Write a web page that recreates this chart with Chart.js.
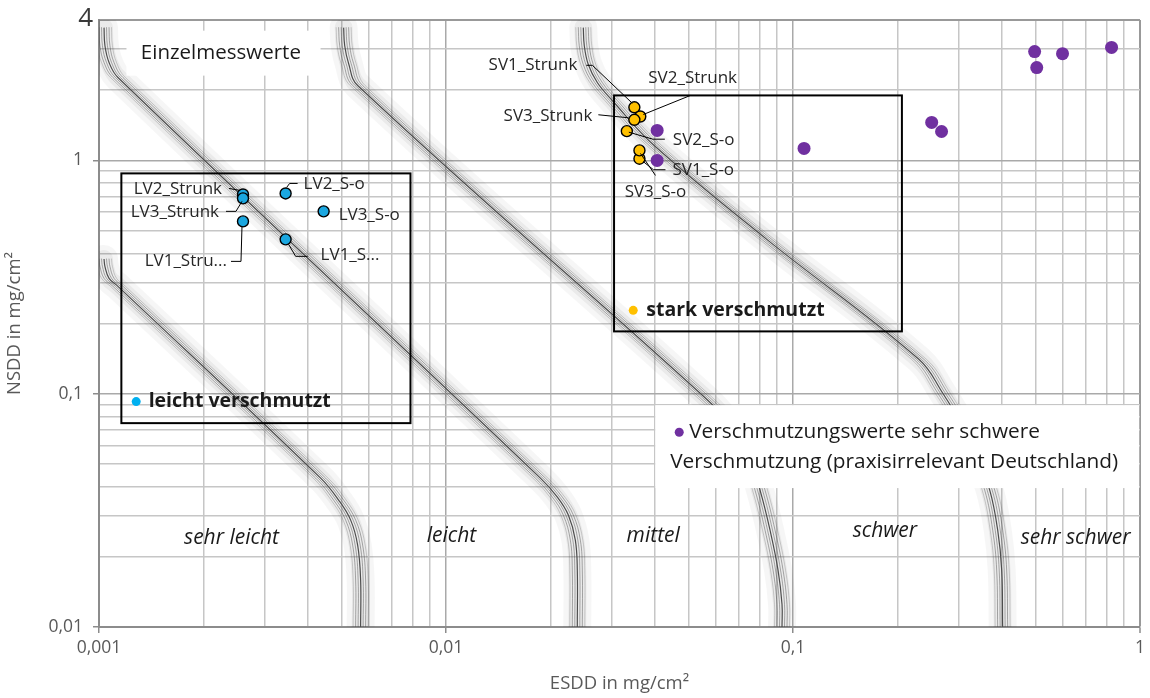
<!DOCTYPE html>
<html>
<head>
<meta charset="utf-8">
<script src="https://cdn.jsdelivr.net/npm/chart.js@4.4.1/dist/chart.umd.min.js"></script>
<style>
  html, body { margin: 0; padding: 0; background: #fff; }
  #wrap { width: 1150px; height: 698px; }
</style>
</head>
<body>
<div id="wrap"><canvas id="chart"></canvas></div>
<script>
// Einzelmesswerte, ESDD / NSDD in mg/cm²
const lvNames = ['LV1_Strunk', 'LV2_Strunk', 'LV3_Strunk', 'LV1_S-o', 'LV2_S-o', 'LV3_S-o'];
const lvEsdd = [0.0026, 0.0026, 0.0026, 0.00345, 0.00345, 0.00444];
const lvNsdd = [0.548, 0.715, 0.688, 0.459, 0.722, 0.605];

const svNames = ['SV1_Strunk', 'SV2_Strunk', 'SV3_Strunk', 'SV1_S-o', 'SV2_S-o', 'SV3_S-o'];
const svEsdd = [0.0349, 0.0363, 0.0349, 0.0361, 0.0332, 0.0361];
const svNsdd = [1.69, 1.543, 1.494, 1.017, 1.335, 1.104];

// sehr schwere Verschmutzung (praxisirrelevant)
const heavyEsdd = [0.0406, 0.0406, 0.1076, 0.251, 0.268, 0.497, 0.504, 0.598, 0.828];
const heavyNsdd = [1.345, 1.0, 1.126, 1.455, 1.331, 2.93, 2.50, 2.87, 3.05];

// class boundaries of the background diagram
const band0Esdd = [0.001034, 0.00104, 0.001069, 0.001134, 0.004353, 0.004904, 0.005312, 0.005564, 0.005675, 0.005675];
const band0Nsdd = [0.378, 0.3516, 0.3124, 0.2887, 0.04345, 0.035, 0.02872, 0.02245, 0.0159, 0.01];
const band1Esdd = [0.001034, 0.00104, 0.001069, 0.001134, 0.01871, 0.02094, 0.02252, 0.02359, 0.0239, 0.0239];
const band1Nsdd = [3.711, 3.109, 2.628, 2.267, 0.04345, 0.03602, 0.03018, 0.02358, 0.01754, 0.01];
const band2Esdd = [0.00507, 0.005105, 0.00524, 0.005564, 0.05401, 0.06587, 0.0752, 0.08035, 0.08587, 0.09055, 0.09297, 0.09297];
const band2Nsdd = [3.711, 3.109, 2.603, 2.095, 0.1005, 0.0733, 0.0519, 0.0386, 0.026, 0.01754, 0.0125, 0.01];
const band3Esdd = [0.02487, 0.02503, 0.02571, 0.02729, 0.03014, 0.03981, 0.08472, 0.2305, 0.2702, 0.3064, 0.3406, 0.3689, 0.389, 0.3994, 0.402];
const band3Nsdd = [3.711, 3.109, 2.577, 2.158, 1.807, 1.159, 0.4544, 0.1405, 0.1005, 0.0733, 0.0519, 0.0386, 0.026, 0.01754, 0.01];

const classNames = ['sehr leicht', 'leicht', 'mittel', 'schwer', 'sehr schwer'];

const xTickValues = [0.001, 0.01, 0.1, 1];
const xTickLabels = ['0,001', '0,01', '0,1', '1'];
const yTickValues = [0.01, 0.1, 1, 4];
const yTickLabels = ['0,01', '0,1', '1', '4'];

const FONT = "'Open Sans', sans-serif";

// where the texts and frames sit (data coordinates)
const classLabelPos = [[0.00241, 0.0240], [0.01037, 0.0245], [0.03955, 0.0246], [0.184, 0.0258], [0.652, 0.0240]];
const frames = [
  { x0: 0.00116, x1: 0.0079, y0: 0.0748, y1: 0.88 },
  { x0: 0.0305, x1: 0.206, y0: 0.185, y1: 1.90 }
];
const whiteBoxes = [
  { x0: 0.0012, x1: 0.00435, y0: 2.31, y1: 3.6 },
  { x0: 0.0401, x1: 0.995, y0: 0.0394, y1: 0.0893 }
];
const notes = [
  { x: 0.00132, y: 2.87, text: 'Einzelmesswerte', size: 20.5 },
  { x: 0.00139, y: 0.0925, text: 'leicht verschmutzt', size: 19.5, bold: true, dot: '#00B0F0', dotX: 0.00128 },
  { x: 0.03777, y: 0.2278, text: 'stark verschmutzt', size: 19.5, bold: true, dot: '#FFC000', dotX: 0.03464 },
  { x: 0.05022, y: 0.0684, text: 'Verschmutzungswerte sehr schwere', size: 20.8, dot: '#7030A0', dotX: 0.04700 },
  { x: 0.04426, y: 0.0509, text: 'Verschmutzung (praxisirrelevant Deutschland)', size: 20.8 }
];

// data labels: pixel offset from the point, leader line as offsets
const labelLayout = {
  'LV1_Strunk': { text: 'LV1_Stru...', dx: -16, dy: 40, align: 'right', leader: [[-12, 40], [-2, 40], [-1, 5]] },
  'LV2_Strunk': { dx: -21, dy: -5, align: 'right', leader: [[-14, -6], [-3, -4]] },
  'LV3_Strunk': { dx: -24, dy: 14, align: 'right', leader: [[-17, 13], [-7, 13], [-1, 3]] },
  'LV1_S-o': { text: 'LV1_S...', dx: 35, dy: 16, align: 'left', leader: [[22, 17], [10, 17], [3, 5]] },
  'LV2_S-o': { dx: 18, dy: -9, align: 'left', leader: [[12, -10], [4, -10], [1, -6]] },
  'LV3_S-o': { dx: 15, dy: 4, align: 'left', leader: [] },
  'SV1_Strunk': { dx: -57, dy: -42, align: 'right', leader: [[-48, -42], [-42, -42], [-2, -4]] },
  'SV2_Strunk': { dx: 8, dy: -38, align: 'left', leader: [[50, -21], [3, -2]] },
  'SV3_Strunk': { dx: -42, dy: -4, align: 'right', leader: [[-36, -5], [-6, -2]] },
  'SV1_S-o': { dx: 33, dy: 11, align: 'left', leader: [[4, 3], [14, 11], [26, 11]] },
  'SV2_S-o': { dx: 46, dy: 9, align: 'left', leader: [[2, 1], [26, 8], [38, 8]] },
  'SV3_S-o': { dx: 16, dy: 42, align: 'center', leader: [[1, 3], [16, 25]] }
};

function zip(xs, ys) { return xs.map((x, i) => ({ x: x, y: ys[i] })); }

function logGrid(min, max) {
  const out = [];
  for (let e = Math.floor(Math.log10(min)); e <= Math.ceil(Math.log10(max)); e++) {
    for (let d = 1; d <= 9; d++) {
      const v = parseFloat((d * Math.pow(10, e)).toPrecision(6));
      if (v >= min - 1e-12 && v <= max + 1e-12) out.push(v);
    }
  }
  return out;
}

function labelIndex(list, v) {
  return list.findIndex(t => Math.abs(Math.log10(t) - Math.log10(v)) < 1e-6);
}

function bandSet(xs, ys) {
  return {
    kind: 'band', type: 'line', data: zip(xs, ys), order: 2,
    borderColor: '#4d4d4d', borderWidth: 1.2, tension: 0.4,
    pointRadius: 0, fill: false
  };
}

function pointSet(name, xs, ys, color, border, r) {
  return {
    kind: 'points', label: name, type: 'scatter', data: zip(xs, ys), order: 1,
    backgroundColor: color, borderColor: border ? '#000' : color,
    borderWidth: border ? 1.4 : 0, pointRadius: r, pointHoverRadius: r
  };
}

const datasets = [
  bandSet(band0Esdd, band0Nsdd),
  bandSet(band1Esdd, band1Nsdd),
  bandSet(band2Esdd, band2Nsdd),
  bandSet(band3Esdd, band3Nsdd),
  Object.assign(pointSet('leicht verschmutzt', lvEsdd, lvNsdd, '#1BA7E0', true, 5.5), { names: lvNames }),
  Object.assign(pointSet('stark verschmutzt', svEsdd, svNsdd, '#FFC000', true, 5.5), { names: svNames }),
  pointSet('sehr schwer', heavyEsdd, heavyNsdd, '#7030A0', false, 6.5)
];

function toPx(chart, xv, yv) {
  return [chart.scales.x.getPixelForValue(xv), chart.scales.y.getPixelForValue(yv)];
}

function rectPx(chart, b) {
  const [x0, y0] = toPx(chart, b.x0, b.y1);
  const [x1, y1] = toPx(chart, b.x1, b.y0);
  return [x0, y0, x1 - x0, y1 - y0];
}

const decorations = {
  id: 'decorations',
  beforeDraw(chart) { chart.$boxesDone = false; },
  beforeDatasetDraw(chart, args) {
    const ds = chart.data.datasets[args.index];
    const ctx = chart.ctx, a = chart.chartArea;
    if (ds.kind === 'band') {
      const line = args.meta.dataset;
      if (line.updateControlPoints) line.updateControlPoints(a, 'x');
      ctx.save();
      ctx.beginPath();
      ctx.rect(a.left, a.top, a.right - a.left, a.bottom - a.top);
      ctx.clip();
      ctx.lineJoin = 'round';
      ctx.lineCap = 'round';
      [[28, 'rgba(0,0,0,0.035)'], [18, 'rgba(0,0,0,0.05)']].forEach(([w, c]) => {
        ctx.lineWidth = w; ctx.strokeStyle = c;
        ctx.beginPath(); line.path(ctx); ctx.stroke();
      });
      [-7.5, -5, -2.5, 2.5, 5, 7.5].forEach(off => {
        ctx.save();
        ctx.translate(off, 0);
        ctx.lineWidth = 0.9;
        ctx.strokeStyle = Math.abs(off) > 6 ? 'rgba(90,90,90,0.3)' : 'rgba(70,70,70,0.5)';
        ctx.beginPath(); line.path(ctx); ctx.stroke();
        ctx.restore();
      });
      ctx.restore();
    } else if (ds.kind === 'points' && !chart.$boxesDone) {
      chart.$boxesDone = true;
      ctx.save();
      ctx.fillStyle = '#fff';
      whiteBoxes.forEach(b => { const r = rectPx(chart, b); ctx.fillRect(r[0], r[1], r[2], r[3]); });
      ctx.restore();
    }
  },
  afterDatasetsDraw(chart) {
    const ctx = chart.ctx;
    ctx.save();
    // frames around the groups
    ctx.strokeStyle = '#000';
    ctx.lineWidth = 2;
    frames.forEach(b => { const r = rectPx(chart, b); ctx.strokeRect(r[0], r[1], r[2], r[3]); });

    // class names
    ctx.fillStyle = '#1a1a1a';
    ctx.font = 'italic 21px ' + FONT;
    ctx.textAlign = 'center';
    ctx.textBaseline = 'middle';
    classNames.forEach((n, i) => {
      const [x, y] = toPx(chart, classLabelPos[i][0], classLabelPos[i][1]);
      ctx.fillText(n, x, y);
    });

    // legend-like notes
    ctx.textAlign = 'left';
    notes.forEach(n => {
      const [x, y] = toPx(chart, n.x, n.y);
      ctx.font = (n.bold ? 'bold ' : '') + n.size + 'px ' + FONT;
      ctx.fillStyle = '#1a1a1a';
      ctx.fillText(n.text, x, y);
      if (n.dot) {
        const [dx] = toPx(chart, n.dotX, n.y);
        ctx.fillStyle = n.dot;
        ctx.beginPath(); ctx.arc(dx, y, 4.5, 0, Math.PI * 2); ctx.fill();
      }
    });

    // data labels with leader lines
    ctx.font = '17px ' + FONT;
    chart.data.datasets.forEach((ds, di) => {
      if (!ds.names) return;
      const meta = chart.getDatasetMeta(di);
      ds.names.forEach((name, i) => {
        const p = meta.data[i];
        const lay = labelLayout[name];
        if (!p || !lay) return;
        if (lay.leader.length) {
          ctx.strokeStyle = '#000';
          ctx.lineWidth = 1;
          ctx.beginPath();
          lay.leader.forEach((o, k) => {
            if (k === 0) ctx.moveTo(p.x + o[0], p.y + o[1]);
            else ctx.lineTo(p.x + o[0], p.y + o[1]);
          });
          ctx.stroke();
        }
        ctx.fillStyle = '#262626';
        ctx.textAlign = lay.align;
        ctx.fillText(lay.text || name, p.x + lay.dx, p.y + lay.dy);
      });
    });

    // the top value label of the y axis sits a bit further right and larger
    const yTop = chart.scales.y;
    ctx.font = '26px ' + FONT;
    ctx.fillStyle = '#3a3a3a';
    ctx.textAlign = 'right';
    ctx.fillText(yTickLabels[yTickLabels.length - 1], yTop.right - 6, yTop.getPixelForValue(yTickValues[yTickValues.length - 1]) - 1);
    ctx.restore();
  }
};

function edge(list, v) {
  return Math.abs(Math.log10(list[list.length - 1]) - Math.log10(v)) < 1e-6;
}
function gridColor(list) {
  return c => {
    if (!c.tick) return '#c4c4c4';
    if (edge(list, c.tick.value)) return '#999999';
    return labelIndex(list, c.tick.value) >= 0 ? '#a9a9a9' : '#c6c6c6';
  };
}
function gridWidth(list) {
  return c => (c.tick && edge(list, c.tick.value)) ? 2 : 1.5;
}
function tickColor(list) {
  return c => (c.tick && labelIndex(list, c.tick.value) >= 0 && !edge(yTickValues, c.tick.value)) ? '#8c8c8c' : 'rgba(0,0,0,0)';
}

new Chart(document.getElementById('chart'), {
  data: { datasets: datasets },
  options: {
    responsive: true,
    maintainAspectRatio: false,
    animation: false,
    devicePixelRatio: 1,
    layout: { padding: { top: 20, right: 9, left: 0, bottom: 0 } },
    plugins: {
      legend: { display: false },
      tooltip: { enabled: false }
    },
    scales: {
      x: {
        type: 'logarithmic',
        min: 0.001,
        max: 1,
        afterBuildTicks: s => { s.ticks = logGrid(0.001, 1).map(v => ({ value: v })); },
        afterFit: s => { s.height = 71; },
        border: { display: true, color: '#8c8c8c', width: 2 },
        grid: { color: gridColor(xTickValues), lineWidth: gridWidth(xTickValues), tickLength: 6, tickColor: tickColor(xTickValues), tickWidth: 1.5 },
        ticks: {
          autoSkip: false, maxRotation: 0, padding: 5,
          color: '#595959', font: { family: FONT, size: 17.5 },
          callback: v => { const i = labelIndex(xTickValues, v); return i >= 0 ? xTickLabels[i] : ''; }
        },
        title: { display: true, text: 'ESDD in mg/cm²', color: '#595959', font: { family: FONT, size: 18.5 }, padding: { top: 0, bottom: 3 } }
      },
      y: {
        type: 'logarithmic',
        min: 0.01,
        max: 4,
        afterBuildTicks: s => { s.ticks = logGrid(0.01, 4).map(v => ({ value: v })); },
        afterFit: s => { s.width = 99; },
        border: { display: true, color: '#8c8c8c', width: 2 },
        grid: { color: gridColor(yTickValues), lineWidth: gridWidth(yTickValues), tickLength: 6, tickColor: tickColor(yTickValues), tickWidth: 1.5 },
        ticks: {
          autoSkip: false, padding: 10,
          color: '#595959',
          font: { family: FONT, size: 17.5, lineHeight: 0.8 },
          callback: v => {
            const i = labelIndex(yTickValues, v);
            return (i >= 0 && i < yTickValues.length - 1) ? yTickLabels[i] : '';
          }
        },
        title: { display: true, text: 'NSDD in mg/cm²', color: '#595959', font: { family: FONT, size: 18.5 }, padding: { top: 4, bottom: 0 } }
      }
    }
  },
  plugins: [decorations]
});
</script>
</body>
</html>
